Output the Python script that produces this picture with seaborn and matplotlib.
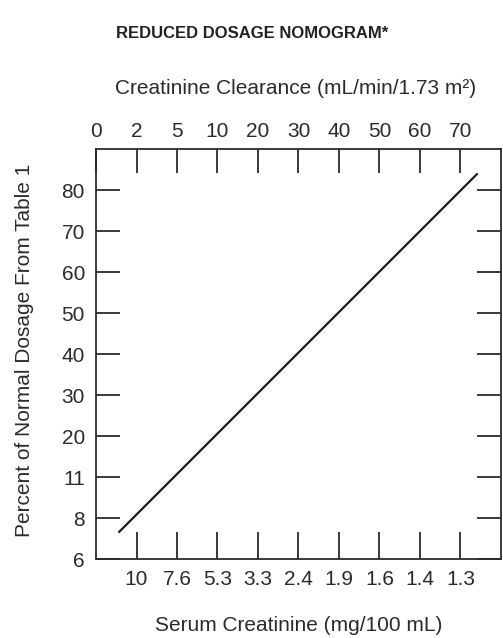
import matplotlib
matplotlib.use("Agg")
import matplotlib.pyplot as plt
import pandas as pd
import seaborn as sns

sns.set_style("ticks")
plt.rcParams["font.family"] = ["Liberation Sans", "DejaVu Sans"]

# nomogramme-skalaer (likt fordelte merker)
clearance_labels = ["0", "2", "5", "10", "20", "30", "40", "50", "60", "70"]
serum_labels = ["10", "7.6", "5.3", "3.3", "2.4", "1.9", "1.6", "1.4", "1.3"]
percent_labels = ["6", "8", "11", "20", "30", "40", "50", "60", "70", "80"]

# linjen i skala-enheter (merkeposisjon), lest av bildet
line_x = [0.57, 9.41]
line_y = [0.66, 9.39]

ink = "#2b2b2b"


def plot_nomogram() -> None:
    fig = plt.figure(figsize=(5.03, 6.38), dpi=100)
    ax = fig.add_axes([0.1909, 0.1238, 0.805, 0.6426])

    data = pd.DataFrame({"x": line_x, "y": line_y})
    sns.lineplot(data=data, x="x", y="y", ax=ax, color="#1a1a1a", linewidth=1.6)

    ax.set_xlim(0, 10)
    ax.set_ylim(0, 10)
    for side in ["left", "right", "top", "bottom"]:
        ax.spines[side].set_visible(True)
        ax.spines[side].set_color(ink)
        ax.spines[side].set_linewidth(1.3)

    # bunn: serumkreatinin
    ax.set_xticks(range(1, len(serum_labels) + 1))
    ax.set_xticklabels(serum_labels)
    ax.tick_params(axis="x", direction="in", length=19.5, width=1.3, color=ink,
                   labelsize=15, labelcolor=ink, pad=8)

    # venstre/høyre: prosent av normal dose
    ax.set_yticks(range(len(percent_labels)))
    ax.set_yticklabels(percent_labels)
    ax.tick_params(axis="y", direction="in", length=17.5, width=1.3, color=ink,
                   labelsize=15, labelcolor=ink, pad=8, right=True)

    # topp: kreatininclearance
    top = ax.secondary_xaxis("top")
    top.set_xticks(range(len(clearance_labels)))
    top.set_xticklabels(clearance_labels)
    top.tick_params(axis="x", direction="in", length=17.5, width=1.3, color=ink,
                    labelsize=15, labelcolor=ink, pad=6)
    top.spines["top"].set_visible(False)

    ax.set_xlabel("Serum Creatinine (mg/100 mL)", fontsize=15, color=ink)
    ax.xaxis.set_label_coords(0.5, -0.161)
    ax.xaxis.label.set_verticalalignment("center")

    ax.set_ylabel("Percent of Normal Dosage From Table 1", fontsize=15, color=ink)
    ax.yaxis.set_label_coords(-0.176, 0.51)
    ax.yaxis.label.set_verticalalignment("center")

    fig.text(296 / 503, 1 - 88 / 638, "Creatinine Clearance (mL/min/1.73 m²)",
             ha="center", va="center", fontsize=15, color=ink)

    fig.text(252 / 503, 1 - 33 / 638, "REDUCED DOSAGE NOMOGRAM*", ha="center", va="center",
             fontsize=12, fontweight="bold", color="#222222")

    fig.savefig("out.png", dpi=100)


if __name__ == "__main__":
    plot_nomogram()
